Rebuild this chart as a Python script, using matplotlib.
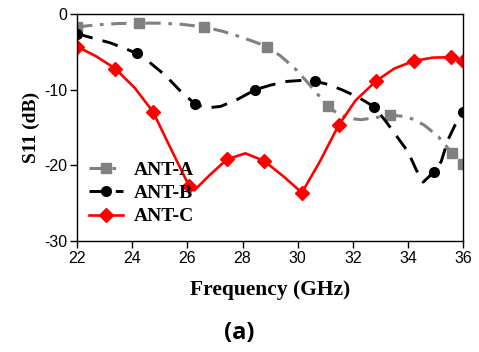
import matplotlib
matplotlib.use("Agg")
import matplotlib.pyplot as plt

# values (frequency in GHz, S11 in dB)
freq_a = [22.0, 22.5, 23.0, 23.5, 24.25, 25.0, 25.8, 26.6, 27.3, 28.0, 28.9,
          29.4, 29.9, 30.3, 30.7, 31.1, 31.5, 31.9, 32.3, 32.8, 33.35, 33.8,
          34.2, 34.6, 35.1, 35.6, 36.0]
s11_a = [-1.7, -1.5, -1.35, -1.25, -1.2, -1.2, -1.35, -1.7, -2.3, -3.1, -4.3,
         -5.6, -7.2, -8.8, -10.5, -12.2, -13.3, -13.8, -13.95, -13.7, -13.35, -13.5,
         -13.9, -14.7, -16.2, -18.4, -19.8]
marks_a = [0, 4, 7, 10, 15, 20, 25, 26]

freq_b = [22.0, 22.5, 23.2, 23.7, 24.17, 24.6, 25.2, 25.7, 26.28, 26.7, 27.2,
          27.8, 28.46, 29.0, 29.6, 30.2, 30.63, 31.1, 31.6, 32.2, 32.77, 33.2,
          33.6, 34.0, 34.3, 34.55, 34.93, 35.2, 35.45, 35.7, 36.0]
s11_b = [-2.6, -3.1, -3.8, -4.5, -5.2, -6.3, -8.1, -10.0, -11.9, -12.4, -12.2,
         -11.3, -10.0, -9.4, -8.9, -8.75, -8.85, -9.3, -10.0, -11.0, -12.25, -14.2,
         -16.2, -18.2, -20.6, -22.2, -20.9, -19.5, -16.6, -14.7, -13.0]
marks_b = [0, 4, 8, 12, 16, 20, 26, 30]

freq_c = [22.0, 22.7, 23.38, 24.1, 24.75, 25.4, 26.06, 26.25, 26.8, 27.43, 28.1,
          28.78, 29.5, 30.15, 30.8, 31.48, 32.1, 32.84, 33.5, 34.2, 34.9, 35.57, 36.0]
s11_c = [-4.3, -5.6, -7.2, -9.8, -12.9, -17.8, -22.7, -23.3, -21.3, -19.2, -18.4,
         -19.4, -21.5, -23.6, -19.5, -14.7, -11.4, -8.85, -7.2, -6.2, -5.75, -5.7, -6.2]
marks_c = [0, 2, 4, 6, 9, 11, 13, 15, 17, 19, 21, 22]

x_ticks = [22, 24, 26, 28, 30, 32, 34, 36]
y_ticks = [-30, -20, -10, 0]

serif = ['Liberation Serif', 'DejaVu Serif']
plt.rcParams['font.family'] = ['Liberation Sans', 'DejaVu Sans']
plt.rcParams['axes.unicode_minus'] = False

fig = plt.figure(figsize=(4.79, 3.52), dpi=100)
ax = fig.add_axes([0.161, 0.315, 0.806, 0.645])

ax.plot(freq_a, s11_a, color='#808080', linestyle=(0, (5, 2.5, 1.2, 2.5)), linewidth=2.2,
        marker='s', markersize=6.5, markevery=marks_a, label='ANT-A')
ax.plot(freq_b, s11_b, color='black', linestyle=(0, (5.5, 3.5)), linewidth=2.1,
        marker='o', markersize=7, markevery=marks_b, label='ANT-B')
ax.plot(freq_c, s11_c, color='#ff0000', linestyle='-', linewidth=1.9,
        marker='D', markersize=7.5, markevery=marks_c, label='ANT-C')

ax.set_xlim(22, 36)
ax.set_ylim(-30, 0)
ax.set_xticks(x_ticks)
ax.set_yticks(y_ticks)
ax.tick_params(direction='out', length=5, width=1, labelsize=11.5, pad=2)
for s in ax.spines.values():
    s.set_linewidth(1)

ax.set_xlabel('Frequency (GHz)', fontsize=15.5, fontweight='bold', family=serif, labelpad=10)
ax.set_ylabel('S11 (dB)', fontsize=14, fontweight='bold', family=serif, labelpad=3)

ax.legend(loc='center left', bbox_to_anchor=(0.031, 0.211), frameon=False,
          prop={'family': serif, 'weight': 'bold', 'size': 14},
          borderpad=0, borderaxespad=0, handlelength=1.75, handletextpad=0.55,
          labelspacing=0.3)

fig.text(0.5, 1 - 333 / 352, '(a)', ha='center', va='center', fontsize=17,
         fontweight='bold', family=['Open Sans', 'DejaVu Sans'])

fig.savefig('out.png', dpi=100)
